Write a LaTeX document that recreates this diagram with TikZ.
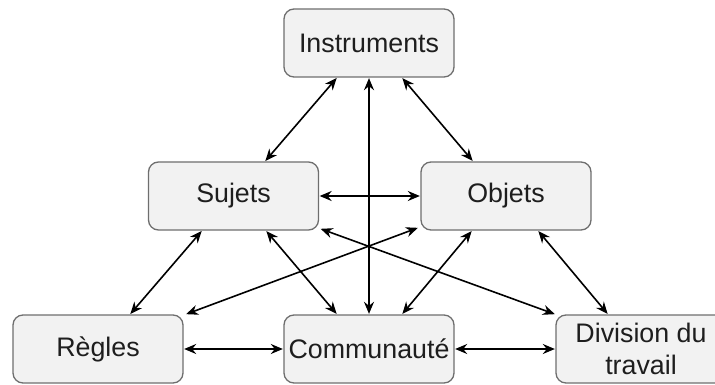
\documentclass[tikz,border=0pt]{standalone}
\usepackage{fontspec}
\setmainfont{Liberation Sans}
\usetikzlibrary{arrows.meta}
\definecolor{boxfill}{HTML}{F2F2F2}
\definecolor{boxline}{HTML}{6E6E6E}
\definecolor{txt}{HTML}{1E1E1E}
\tikzset{
  box/.style={draw=boxline, line width=1.3pt, fill=boxfill, rounded corners=10pt,
    minimum width=170pt, minimum height=68pt, inner sep=0pt, text=txt,
    font=\fontsize{26.8}{32}\selectfont, align=center},
  link/.style={line width=1.6pt, black, {Stealth[length=12pt,width=10pt]}-{Stealth[length=12pt,width=10pt]}, shorten <=0.5pt, shorten >=0.5pt}
}
\begin{document}
\begin{tikzpicture}[x=1pt,y=-1pt]
\useasboundingbox (0,0) rectangle (715,385);
\clip (0,0) rectangle (715,385);
\node[box] (instr) at (369,43) {Instruments};
\node[box] (suj) at (233.5,196) {Sujets};
\node[box] (obj) at (506,196) {Objets};
\node[box] (reg) at (98,349) {Règles};
\node[box] (comm) at (369,349) {Communauté};
\node[box] (div) at (641,349) {Division du\\travail};

\draw[link] ([xshift=-32pt]instr.south) -- ([xshift=31.5pt]suj.north);
\draw[link] (instr.south) -- (comm.north);
\draw[link] ([xshift=33pt]instr.south) -- ([xshift=-33pt]obj.north);
\draw[link] (suj.east) -- (obj.west);
\draw[link] ([xshift=-31.5pt]suj.south) -- ([xshift=32pt]reg.north);
\draw[link] ([xshift=32.5pt]suj.south) -- ([xshift=-32pt]comm.north);
\draw[link] ([yshift=3pt,xshift=-2pt]obj.south west) -- ([xshift=2pt]reg.north east);
\draw[link] ([yshift=2pt,xshift=1pt]suj.south east) -- (div.north west);
\draw[link] ([xshift=-34pt]obj.south) -- ([xshift=33pt]comm.north);
\draw[link] ([xshift=32pt]obj.south) -- ([xshift=-33pt]div.north);
\draw[link] (reg.east) -- (comm.west);
\draw[link] (comm.east) -- (div.west);
\end{tikzpicture}
\end{document}
